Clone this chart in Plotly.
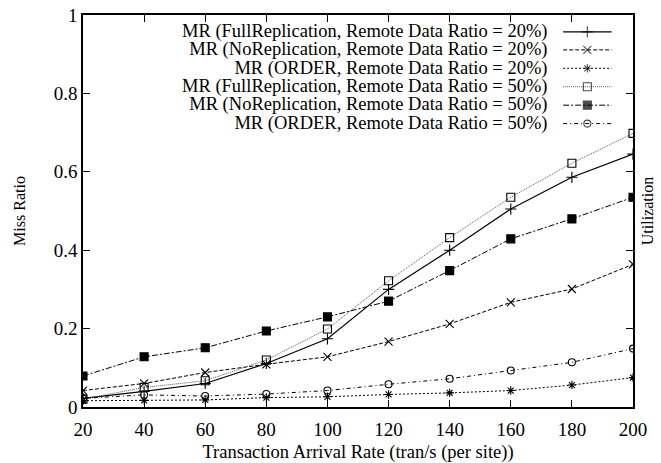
import plotly.graph_objects as go

# ---- data ----
arrival_rate = [20, 40, 60, 80, 100, 120, 140, 160, 180, 200]
full_rep_20 = [0.022, 0.040, 0.060, 0.111, 0.174, 0.300, 0.400, 0.505, 0.586, 0.645]
no_rep_20 = [0.042, 0.060, 0.088, 0.109, 0.128, 0.167, 0.212, 0.267, 0.301, 0.364]
order_20 = [0.016, 0.017, 0.018, 0.024, 0.026, 0.032, 0.036, 0.042, 0.056, 0.075]
full_rep_50 = [0.020, 0.050, 0.067, 0.120, 0.199, 0.322, 0.432, 0.535, 0.622, 0.698]
no_rep_50 = [0.079, 0.128, 0.151, 0.194, 0.230, 0.270, 0.348, 0.429, 0.480, 0.535]
order_50 = [0.022, 0.031, 0.028, 0.033, 0.042, 0.058, 0.072, 0.093, 0.114, 0.149]

series_names = [
    "MR (FullReplication, Remote Data Ratio = 20%)",
    "MR (NoReplication, Remote Data Ratio = 20%)",
    "MR (ORDER, Remote Data Ratio = 20%)",
    "MR (FullReplication, Remote Data Ratio = 50%)",
    "MR (NoReplication, Remote Data Ratio = 50%)",
    "MR (ORDER, Remote Data Ratio = 50%)",
]
series_values = [full_rep_20, no_rep_20, order_20, full_rep_50, no_rep_50, order_50]

x_ticks = [20, 40, 60, 80, 100, 120, 140, 160, 180, 200]
y_ticks = [0, 0.2, 0.4, 0.6, 0.8, 1]
y_tick_labels = ["0", "0.2", "0.4", "0.6", "0.8", "1"]

# ---- styles ----
styles = [
    dict(dash="solid", width=1.2, color="black", symbol="cross-thin-open", size=8),
    dict(dash="4px,2px", width=1.0, color="black", symbol="x-thin-open", size=8),
    dict(dash="2px,2px", width=1.0, color="black", symbol="asterisk-open", size=7),
    dict(dash="1px,1px", width=1.0, color="#555555", symbol="square-open", size=8),
    dict(dash="6px,2px,2px,2px", width=1.0, color="black", symbol="square", size=8),
    dict(dash="4px,3px,1px,3px", width=1.0, color="black", symbol="circle-open", size=7),
]

FONT = "Liberation Serif"

fig = go.Figure()
for name, vals, st in zip(series_names, series_values, styles):
    fig.add_trace(go.Scatter(
        x=arrival_rate, y=vals, name=name, mode="lines+markers",
        line=dict(color=st["color"], width=st["width"], dash=st["dash"]),
        marker=dict(symbol=st["symbol"], size=st["size"], color="black",
                    line=dict(color="black", width=1.1)),
        showlegend=False,
    ))

# invisible trace to activate the right axis
fig.add_trace(go.Scatter(x=[arrival_rate[0]], y=[0], yaxis="y2", mode="markers",
                         marker=dict(opacity=0), showlegend=False, hoverinfo="skip"))

# ---- manual legend: right-aligned text block, line samples to the right ----
legend_text = "<br>".join(
    f'<span style="font-size:18.5px">{n}</span>' for n in series_names)
fig.add_annotation(x=0.848, y=0.8406, xref="x3", yref="y3", text=legend_text,
                   showarrow=False, xanchor="right", yanchor="middle", align="right",
                   font=dict(family=FONT, size=14.1, color="black"))

row_y = [0.957, 0.911, 0.864, 0.817, 0.770, 0.723]
for st, ry in zip(styles, row_y):
    fig.add_trace(go.Scatter(
        x=[0.873, 0.917, 0.961], y=[ry, ry, ry], xaxis="x3", yaxis="y3",
        mode="lines+markers",
        line=dict(color=st["color"], width=st["width"], dash=st["dash"]),
        marker=dict(symbol=st["symbol"], size=[0, st["size"], 0], color="black",
                    line=dict(color="black", width=1.1)),
        showlegend=False, hoverinfo="skip",
    ))

axis_common = dict(showline=True, linecolor="black", linewidth=1.5, mirror="ticks",
                   ticks="inside", ticklen=7, tickwidth=1, tickcolor="black",
                   showgrid=False, zeroline=False, automargin=False,
                   tickfont=dict(family=FONT, size=19, color="black"))

fig.update_layout(
    width=661, height=463,
    margin=dict(l=83, r=28, t=15, b=56),
    paper_bgcolor="white", plot_bgcolor="white",
    font=dict(family=FONT, size=18, color="black"),
    xaxis=dict(range=[20, 200], tickvals=x_ticks, ticklabelstandoff=4, **axis_common,
               title=dict(text="Transaction Arrival Rate (tran/s (per site))",
                          font=dict(family=FONT, size=18.5), standoff=8)),
    yaxis=dict(range=[0, 1], tickvals=y_ticks, ticktext=y_tick_labels, **axis_common,
               title=dict(text="Miss Ratio", font=dict(family=FONT, size=16), standoff=24)),
    yaxis2=dict(range=[0, 1], overlaying="y", side="right", showticklabels=False,
                ticks="", showgrid=False, zeroline=False, showline=False, automargin=False,
                title=dict(text="Utilization", font=dict(family=FONT, size=16), standoff=8)),
    xaxis3=dict(range=[0, 1], overlaying="x", visible=False, fixedrange=True),
    yaxis3=dict(range=[0, 1], overlaying="y", visible=False, fixedrange=True),
)

fig.write_html("out.html")
